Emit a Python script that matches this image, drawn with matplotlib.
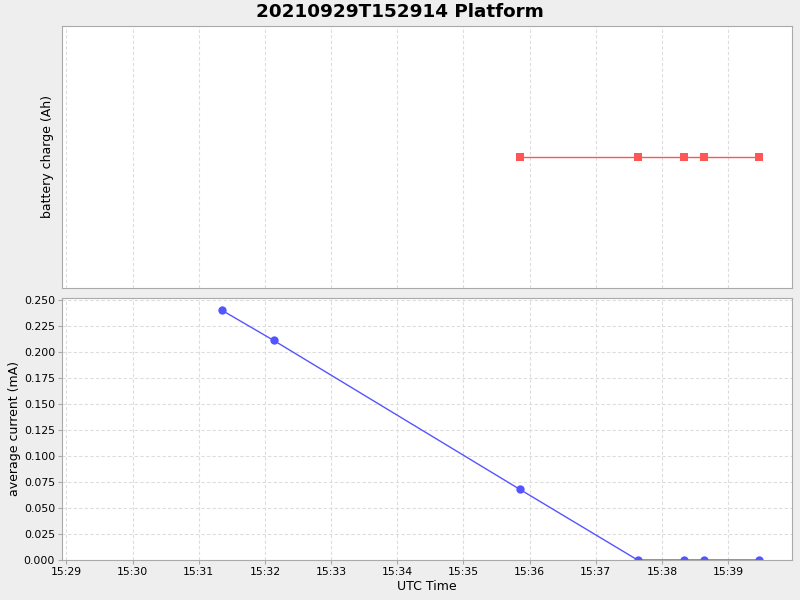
# Platform battery charge and average current over time (two stacked panels)
import matplotlib
matplotlib.use("Agg")
import matplotlib.pyplot as plt
import matplotlib.dates as mdates
from datetime import datetime

# Data
current_times = ["15:31:21", "15:32:08", "15:35:51", "15:37:38", "15:38:20", "15:38:38", "15:39:28"]
current_values = [0.240, 0.211, 0.068, 0.0, 0.0, 0.0, 0.0]
charge_times = ["15:35:51", "15:37:38", "15:38:20", "15:38:38", "15:39:28"]
charge_values = [0.0, 0.0, 0.0, 0.0, 0.0]
x_ticks = ["15:29", "15:30", "15:31", "15:32", "15:33", "15:34",
           "15:35", "15:36", "15:37", "15:38", "15:39"]
y_ticks = [0.000, 0.025, 0.050, 0.075, 0.100, 0.125, 0.150, 0.175, 0.200, 0.225, 0.250]


def to_dt(s):
    fmt = "%H:%M:%S" if s.count(":") == 2 else "%H:%M"
    t = datetime.strptime(s, fmt)
    return datetime(2021, 9, 29, t.hour, t.minute, t.second)


cur_x = [to_dt(s) for s in current_times]
chg_x = [to_dt(s) for s in charge_times]
tick_x = [to_dt(s) for s in x_ticks]

bg = "#eeeeee"
grid_kw = dict(color="#dddddd", linestyle=(0, (3, 2)), linewidth=0.8)

fig = plt.figure(figsize=(8, 6), dpi=100, facecolor=bg)
W, H = 800, 600
ax1 = fig.add_axes([62 / W, 1 - 288 / H, 730 / W, 262 / H])
ax2 = fig.add_axes([62 / W, 1 - 560 / H, 730 / W, 262 / H], sharex=ax1)

for ax in (ax1, ax2):
    ax.set_facecolor("white")
    for sp in ax.spines.values():
        sp.set_color("#aaaaaa")
    ax.set_axisbelow(True)

# top panel: battery charge
ax1.plot(chg_x, charge_values, color="#ff5555", linewidth=1.0,
         marker="s", markersize=5.5, markeredgewidth=0)
ax1.set_ylim(-1, 1)
ax1.set_yticks([])
ax1.grid(axis="x", **grid_kw)
ax1.tick_params(axis="x", length=0, labelbottom=False)
ax1.set_ylabel("battery charge (Ah)", fontsize=9, labelpad=6)

# bottom panel: average current
ax2.plot(cur_x, current_values, color="#5555ff", linewidth=1.0,
         marker="o", markersize=6, markeredgewidth=0)
ax2.set_ylim(0, 0.2518)
ax2.set_yticks(y_ticks)
ax2.set_yticklabels([f"{v:.3f}" for v in y_ticks])
ax2.grid(True, **grid_kw)
ax2.set_ylabel("average current (mA)", fontsize=9, labelpad=2)
ax2.set_xlabel("UTC Time", fontsize=9, labelpad=2)

ax2.set_xticks(tick_x)
ax2.xaxis.set_major_formatter(mdates.DateFormatter("%H:%M"))
ax2.set_xlim(to_dt("15:28:56"), to_dt("15:39:58"))
ax2.tick_params(labelsize=7.8, length=3, width=0.8, color="#aaaaaa", pad=2)

fig.suptitle("20210929T152914 Platform", fontsize=13.2, fontweight="bold", y=0.995)

fig.savefig("out.png", dpi=100, facecolor=bg)
